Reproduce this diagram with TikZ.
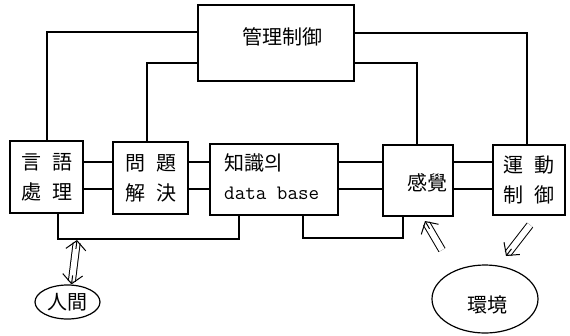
\documentclass[tikz,border=0pt]{standalone}
\usepackage{fontspec}
\newfontfamily\cjk{Noto Sans CJK KR}
\usetikzlibrary{shapes.geometric,arrows.meta,calc}
\begin{document}
\begin{tikzpicture}[x=1pt,y=-1pt,
  box/.style={draw, line width=1.2pt, inner sep=0pt, rectangle},
  oval/.style={draw, line width=1.2pt, inner sep=0pt, ellipse},
  cjkfont/.style={font=\cjk\fontsize{20}{30}\selectfont},
  wire/.style={line width=1.2pt},
  dbl/.style={double, line width=1pt, double distance=6pt},
  vhead/.style={line width=1pt, -{Straight Barb[length=9pt, width=20pt]}},
]
\useasboundingbox (0,0) rectangle (570,335);
% boxes
\node[box, minimum width=156pt, minimum height=76pt] (mgmt) at (276,43) {};
\node[cjkfont] (tmgmt) at (282,37) {管理制御};
\node[box, cjkfont, align=center, minimum width=73pt, minimum height=72pt] (lang) at (46.5,177) {言\hspace{11pt}語\\處\hspace{11pt}理};
\node[box, cjkfont, align=center, minimum width=75pt, minimum height=72pt] (prob) at (150.5,178) {問\hspace{11pt}題\\解\hspace{11pt}決};
\node[box, minimum width=128pt, minimum height=71pt] (know) at (274,179.5) {};
\node[cjkfont, anchor=west, inner sep=0pt] (tknow1) at (224,163) {知識의};
\node[font=\ttfamily\fontsize{20.5}{24}\selectfont, anchor=west, inner sep=0pt] (tknow2) at (224,193) {data base};
\node[box, minimum width=70pt, minimum height=71pt] (sense) at (418,180.5) {};
\node[cjkfont] (tsense) at (427,183) {感覺};
\node[box, cjkfont, align=center, minimum width=72pt, minimum height=70pt] (motor) at (529,180) {運\hspace{11pt}動\\制\hspace{11pt}御};
\node[oval, cjkfont, minimum width=65pt, minimum height=34pt] (human) at (67.5,302) {人間};
\node[oval, minimum width=106pt, minimum height=68pt] (env) at (485,299) {};
\node[cjkfont] (tenv) at (487,305) {環境};
% waypoints
\coordinate (cA) at (47,32);
\coordinate (cB) at (147,63);
\coordinate (cC) at (527,33);
\coordinate (cD) at (417,63);
\coordinate (hu) at (0,162);
\coordinate (hd) at (0,189);
\coordinate (b1) at (58,239);
\coordinate (b2) at (239,239);
\coordinate (b3) at (303,238);
\coordinate (b4) at (403,238);
\coordinate (ha) at (77,240);
\coordinate (hb) at ([xshift=4pt]human.north);
\coordinate (ea1) at (442,250);
\coordinate (ea2) at (425,221);
\coordinate (eb1) at (530,225);
\coordinate (eb2) at (506,256);
% management links
\draw[wire] (cA -| mgmt.west) -| (cA |- lang.north);
\draw[wire] (cB -| mgmt.west) -| (cB |- prob.north);
\draw[wire] (cC -| mgmt.east) -| (cC |- motor.north);
\draw[wire] (cD -| mgmt.east) -| (cD |- sense.north);
% horizontal double links
\foreach \p/\q in {lang/prob, prob/know, know/sense, sense/motor}{
  \draw[wire] (hu -| \p.east) -- (hu -| \q.west);
  \draw[wire] (hd -| \p.east) -- (hd -| \q.west);
}
% bottom links
\draw[wire] (b1 |- lang.south) -- (b1) -- (b2) -- (b2 |- know.south);
\draw[wire] (b3 |- know.south) -- (b3) -- (b4) -- (b4 |- sense.south);
% double arrows
\draw[dbl, shorten <=3pt, shorten >=3pt] (ha) -- (hb);
\draw[vhead] ($(ha)!9pt!(hb)$) -- (ha);
\draw[vhead] ($(hb)!9pt!(ha)$) -- (hb);
\draw[dbl, shorten >=3pt] (ea1) -- (ea2);
\draw[vhead] ($(ea2)!9pt!(ea1)$) -- (ea2);
\draw[dbl, shorten >=3pt] (eb1) -- (eb2);
\draw[vhead] ($(eb2)!9pt!(eb1)$) -- (eb2);
\end{tikzpicture}
\end{document}
